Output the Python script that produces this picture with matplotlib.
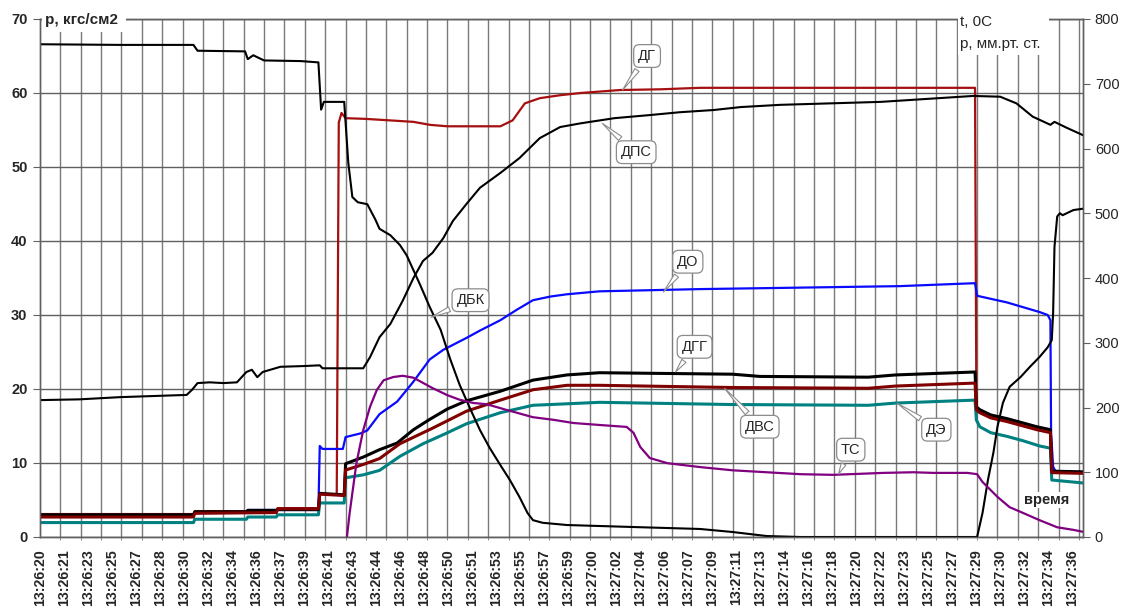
import numpy as np
import matplotlib
matplotlib.use("Agg")
import matplotlib.pyplot as plt
from matplotlib.patches import Rectangle

plt.rcParams['font.family'] = ['Liberation Sans', 'DejaVu Sans']

# подписи оси времени
time_labels = ['13:26:20', '13:26:21', '13:26:23', '13:26:25', '13:26:27', '13:26:28',
               '13:26:30', '13:26:32', '13:26:34', '13:26:36', '13:26:37', '13:26:39',
               '13:26:41', '13:26:43', '13:26:44', '13:26:46', '13:26:48', '13:26:50',
               '13:26:51', '13:26:53', '13:26:55', '13:26:57', '13:26:59', '13:27:00',
               '13:27:02', '13:27:04', '13:27:06', '13:27:07', '13:27:09', '13:27:11',
               '13:27:13', '13:27:14', '13:27:16', '13:27:18', '13:27:20', '13:27:22',
               '13:27:23', '13:27:25', '13:27:27', '13:27:29', '13:27:30', '13:27:32',
               '13:27:34', '13:27:36']

# время, с от 13:26:20; давления в кгс/см2 (левая ось)
t_dg = [0, 11.3, 11.4, 17.4, 17.5, 20.5, 20.6, 21.85, 22.0, 22.2, 22.5, 24.0, 27.5, 28.7,
        30.0, 33.9, 34.8, 35.7, 36.8, 38.3, 39.8, 42.7, 45.7, 48.6, 68.85, 68.95, 69.2,
        70.0, 71.2, 72.4, 73.4, 74.4, 74.5, 76.8]
p_dg = [3.1, 3.1, 3.5, 3.5, 3.9, 3.9, 5.8, 5.7, 56.0, 57.3, 56.6, 56.5, 56.1, 55.7,
        55.5, 55.5, 56.3, 58.6, 59.3, 59.7, 60.0, 60.4, 60.5, 60.7, 60.7, 17.4, 17.0,
        16.4, 15.8, 15.3, 14.8, 14.4, 8.8, 8.7]

t_dps = [0, 2.9, 5.9, 10.8, 11.2, 11.6, 12.5, 13.5, 14.5, 15.2, 15.6, 16.0, 16.4, 17.7,
         19.4, 20.6, 20.8, 23.8, 24.3, 25.0, 25.8, 26.7, 27.5, 28.2, 28.9, 29.7, 30.4,
         31.4, 32.4, 33.9, 35.3, 36.8, 38.3, 39.8, 42.3, 44.8, 47.1, 49.6, 51.6, 54.5,
         61.9, 68.7, 70.7, 71.9, 73.1, 74.4, 74.7, 75.6, 76.8]
p_dps = [18.5, 18.6, 18.9, 19.2, 19.9, 20.8, 20.9, 20.8, 20.9, 22.3, 22.6, 21.6, 22.3,
         23.0, 23.1, 23.2, 22.8, 22.8, 24.3, 27.0, 28.8, 31.9, 35.0, 37.3, 38.4, 40.4,
         42.7, 45.0, 47.2, 49.2, 51.2, 53.9, 55.4, 55.9, 56.6, 57.0, 57.4, 57.7, 58.1,
         58.4, 58.8, 59.6, 59.5, 58.6, 56.8, 55.7, 56.1, 55.3, 54.3]

t_do = [0, 11.3, 11.4, 15.2, 15.3, 20.5, 20.6, 20.8, 22.3, 22.5, 23.6, 24.1, 25.0, 26.3,
        27.5, 28.7, 29.7, 31.4, 32.4, 33.9, 35.1, 36.3, 37.6, 38.8, 41.2, 48.6, 56.0,
        63.3, 68.85, 69.0, 71.2, 73.6, 74.2, 74.4, 74.45, 74.6, 74.8, 76.8]
p_do = [2.9, 2.9, 3.3, 3.3, 3.65, 3.65, 12.3, 11.9, 11.9, 13.5, 14.0, 14.4, 16.6, 18.3,
        21.0, 24.0, 25.3, 26.9, 27.9, 29.3, 30.7, 32.0, 32.5, 32.8, 33.2, 33.5, 33.7,
        33.9, 34.3, 32.6, 31.7, 30.4, 30.0, 29.3, 14.0, 9.5, 8.8, 8.8]

t_dgg = [0, 11.3, 11.4, 15.2, 15.3, 17.4, 17.5, 20.5, 20.6, 22.4, 22.5, 23.8, 25.0, 26.3,
         27.5, 28.7, 30.0, 31.4, 33.9, 36.3, 38.8, 41.2, 51.0, 53.0, 61.0, 63.0, 68.85,
         68.95, 69.2, 70.0, 71.2, 72.4, 73.4, 74.4, 74.5, 76.8]
p_dgg = [3.0, 3.0, 3.4, 3.4, 3.6, 3.6, 3.7, 3.7, 5.9, 5.7, 9.9, 10.8, 11.8, 12.7, 14.5,
         15.9, 17.3, 18.4, 19.7, 21.2, 21.9, 22.2, 22.0, 21.7, 21.6, 21.9, 22.3, 17.6,
         17.2, 16.5, 16.0, 15.4, 14.9, 14.5, 8.9, 8.8]

t_dvs = [0, 11.3, 11.4, 17.4, 17.5, 20.5, 20.6, 22.4, 22.5, 23.8, 25.0, 26.5, 28.9, 31.4,
         33.9, 36.3, 38.8, 41.2, 51.0, 61.0, 63.0, 68.85, 68.95, 69.2, 70.0, 71.2, 72.4,
         73.4, 74.4, 74.5, 76.8]
p_dvs = [2.7, 2.7, 3.2, 3.3, 3.8, 3.8, 5.8, 5.6, 9.05, 9.8, 10.6, 12.6, 14.7, 17.0, 18.5,
         19.9, 20.5, 20.5, 20.2, 20.1, 20.4, 20.8, 17.2, 16.8, 16.1, 15.6, 15.0, 14.5,
         14.1, 8.7, 8.6]

t_de = [0, 11.3, 11.4, 15.2, 15.3, 17.4, 17.5, 20.5, 20.6, 22.4, 22.5, 23.8, 25.0, 26.5,
        28.2, 29.9, 31.4, 33.9, 36.3, 38.8, 41.2, 51.0, 61.0, 63.0, 68.85, 68.95, 69.2,
        70.0, 71.2, 72.4, 73.6, 74.4, 74.5, 76.8]
p_de = [1.95, 1.95, 2.4, 2.4, 2.7, 2.7, 3.0, 3.0, 4.6, 4.6, 8.0, 8.4, 9.0, 10.9, 12.6,
        14.0, 15.3, 16.8, 17.8, 18.0, 18.2, 17.9, 17.8, 18.1, 18.5, 15.8, 14.9, 14.1,
        13.6, 13.0, 12.3, 12.0, 7.7, 7.3]

# правая ось: давление в барокамере, мм рт. ст., и температура, 0С
t_dbk = [0, 5.9, 11.3, 11.6, 15.1, 15.3, 15.7, 16.1, 16.5, 19.2, 20.5, 20.7, 20.9, 22.4,
         22.7, 23.0, 23.4, 24.1, 24.7, 25.0, 25.8, 26.5, 27.0, 27.5, 28.0, 28.7, 29.5,
         30.2, 30.9, 31.7, 32.4, 33.1, 33.9, 34.6, 35.3, 35.9, 36.3, 37.0, 38.8, 43.7,
         48.6, 51.0, 53.5, 56.0, 69.0, 69.4, 69.8, 70.2, 70.5, 70.9, 71.4, 72.2, 72.9,
         73.6, 74.2, 74.5, 74.6, 74.7, 74.9, 75.1, 75.3, 75.6, 76.1, 76.8]
p_dbk = [761, 760, 760, 751, 750, 738, 744, 740, 736, 735, 733, 660, 672, 672, 578, 525,
         517, 514, 490, 476, 466, 451, 435, 412, 389, 355, 320, 275, 235, 197, 165, 138,
         111, 88, 62, 37, 26, 22, 18.5, 15.4, 12.4, 7.7, 1.5, 0, 0, 37, 88, 130, 170,
         207, 232, 247, 263, 278, 293, 304, 346, 448, 495, 500, 497, 500, 505, 507]

t_ts = [22.6, 22.8, 23.3, 23.8, 24.3, 24.8, 25.3, 26.0, 26.7, 27.5, 28.2, 28.9, 30.0,
        30.9, 31.9, 32.9, 34.4, 36.3, 37.8, 39.3, 41.2, 43.2, 43.7, 44.2, 44.9, 46.2,
        48.6, 51.0, 53.5, 56.0, 58.4, 62.1, 64.3, 65.8, 68.3, 69.0, 69.4, 70.5, 71.4,
        72.4, 73.6, 74.9, 76.1, 76.8]
temp_ts = [0, 37, 114, 165, 201, 227, 242, 247, 249, 246, 238, 230, 219, 212, 207, 205,
           196, 185, 181, 176, 173, 170, 161, 139, 122, 114, 108, 103, 100, 97, 96, 99,
           100, 99, 99, 97, 85, 62, 46, 37, 26, 15, 11, 8]

# выноски: подпись, точка на кривой, центр рамки (левая ось)
callouts = [
    ('ДГ', (42.9, 60.4), (44.7, 65.0)),
    ('ДПС', (41.4, 55.9), (43.9, 52.0)),
    ('ДО', (45.9, 33.1), (47.7, 37.2)),
    ('ДБК', (28.8, 29.7), (31.7, 32.0)),
    ('ДГГ', (46.8, 22.3), (48.2, 25.7)),
    ('ДВС', (50.4, 20.1), (53.0, 14.9)),
    ('ДЭ', (63.1, 18.1), (66.0, 14.5)),
    ('ТС', (58.8, 8.5), (59.7, 11.8)),
]

fig = plt.figure(figsize=(11.26, 6.12), dpi=100)
ax = fig.add_axes([40 / 1126, 75 / 612, 1043 / 1126, 518 / 612])
ax2 = ax.twinx()

vgrid_col = '#7a7a7a'
hgrid_col = '#606060'
txt_col = '#262626'

ax.plot(t_dg, p_dg, color='#a50f0f', lw=1.6, zorder=3)
ax.plot(t_dps, p_dps, color='black', lw=1.5, zorder=3)
ax.plot(t_do, p_do, color='#0a0aff', lw=1.6, zorder=3)
ax.plot(t_dgg, p_dgg, color='black', lw=2.2, zorder=4)
ax.plot(t_dvs, p_dvs, color='#800000', lw=2.2, zorder=4)
ax.plot(t_de, p_de, color='#008080', lw=2.2, zorder=3)
ax2.plot(t_dbk, p_dbk, color='black', lw=1.5)
ax2.plot(t_ts, temp_ts, color='#800080', lw=1.6)

x_max = 76.8
ax.set_xlim(0, x_max)
ax.set_ylim(0, 70)
ax2.set_ylim(0, 800)

label_pos = np.linspace(0, 76, len(time_labels))
ax.set_xticks(label_pos)
ax.set_xticklabels(time_labels, rotation=90, fontsize=10.2, fontweight='bold', color=txt_col)
ax.set_xticks(np.arange(0, x_max, 1.5), minor=True)
ax.tick_params(axis='x', which='major', length=0, pad=8.5)
ax.tick_params(axis='x', which='minor', length=2.5, color=vgrid_col, direction='out')
ax.grid(which='minor', axis='x', color=vgrid_col, lw=1.0)
ax.grid(which='major', axis='y', color=hgrid_col, lw=1.0)
ax.set_axisbelow(True)

ax.set_yticks(np.arange(0, 71, 10))
ax.tick_params(axis='y', length=5, color=hgrid_col, pad=4,
               labelsize=10.5, labelcolor=txt_col)
for lab in ax.get_yticklabels():
    lab.set_fontweight('bold')
ax2.set_yticks(np.arange(0, 801, 100))
ax2.tick_params(axis='y', length=5, color=hgrid_col, pad=3.5,
                labelsize=10.5, labelcolor=txt_col)

for a in (ax, ax2):
    for s in a.spines.values():
        s.set_color(hgrid_col)
        s.set_linewidth(1.0)

# подписи осей на белой подложке
axpx = ax.transAxes
w_ax, h_ax = 1043.0, 518.0
ax2.add_patch(Rectangle((2 / w_ax, (537 - 32) / h_ax), 84 / w_ax, 28 / h_ax,
                        transform=axpx, facecolor='white', edgecolor='none',
                        clip_on=False, zorder=10))
ax2.text(5 / w_ax, (537 - 20) / h_ax, 'p, кгс/см2', transform=axpx, fontsize=11,
         fontweight='bold', color=txt_col, ha='left', va='center', zorder=11)
ax2.add_patch(Rectangle((918 / w_ax, (537 - 55) / h_ax), 91 / w_ax, 56 / h_ax,
                        transform=axpx, facecolor='white', edgecolor='none',
                        clip_on=False, zorder=10))
ax2.text(920 / w_ax, (537 - 22) / h_ax, 't, 0С', transform=axpx, fontsize=11,
         color=txt_col, ha='left', va='center', zorder=11)
ax2.text(920 / w_ax, (537 - 44) / h_ax, 'p, мм.рт. ст.', transform=axpx, fontsize=11,
         color=txt_col, ha='left', va='center', zorder=11)

ax2.text(74.15, 5.0, 'время', transform=ax.transData, fontsize=10.5, fontweight='bold',
         color=txt_col, ha='center', va='center', zorder=11,
         bbox=dict(boxstyle='square,pad=0.1', fc='white', ec='none'))

for name, xy, xytext in callouts:
    ax2.annotate(name, xy=xy, xytext=xytext, xycoords=ax.transData,
                 textcoords=ax.transData, fontsize=10.5, color=txt_col,
                 ha='center', va='center', zorder=12,
                 bbox=dict(boxstyle='round,pad=0.3,rounding_size=0.4', fc='white',
                           ec='#8c8c8c', lw=0.9),
                 arrowprops=dict(arrowstyle='wedge,tail_width=0.35,shrink_factor=0.5',
                                 fc='white', ec='#8c8c8c', lw=0.8, shrinkB=0))

fig.savefig('out.png', dpi=100, facecolor='white')
